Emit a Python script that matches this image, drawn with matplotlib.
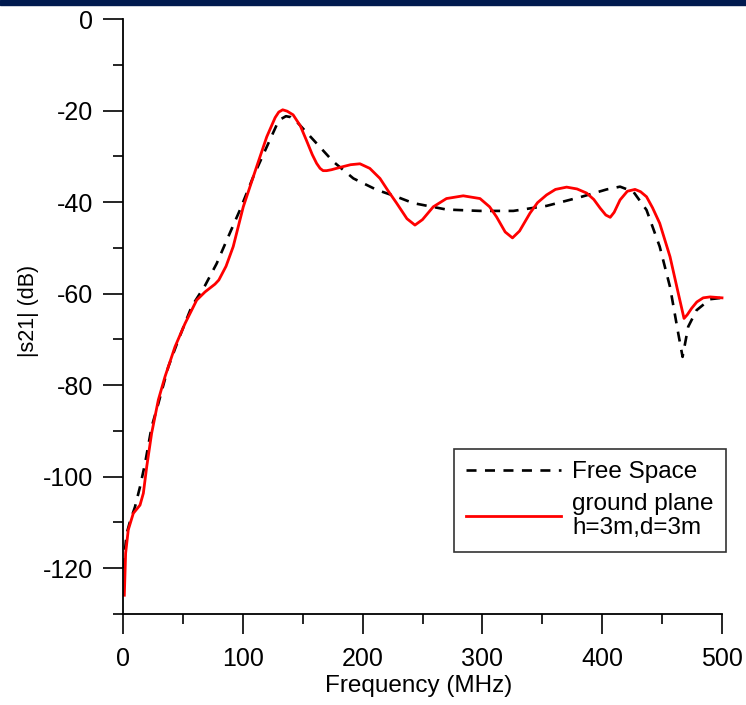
import matplotlib
matplotlib.use("Agg")
import matplotlib.pyplot as plt
from matplotlib.patches import Rectangle
from matplotlib.ticker import MultipleLocator

plt.rcParams['font.family'] = ['Liberation Sans', 'DejaVu Sans']
plt.rcParams['axes.unicode_minus'] = False

# Free space |s21| (dB)
fs_freq = [1, 1.7, 3, 5.8, 10, 14.2, 18.4, 23.9, 29.5, 37.8, 46.2, 57.3, 68.5,
           78.2, 86.6, 97.6, 108.8, 120, 128.3, 132, 136, 140, 145, 159, 175.4,
           192.3, 211.8, 228.4, 242.3, 270, 298, 325.8, 353.6, 381.6, 403.8,
           414.9, 426, 437, 448, 456.6, 463.5, 467.1, 471.8, 478.8, 490, 500]
fs_db = [-120, -116, -112.5, -109.8, -106.6, -102.2, -97.1, -89.1, -84, -76,
         -70.1, -62.8, -58.2, -53.4, -48.3, -41.7, -34.4, -27.9, -23.1, -21.8,
         -21.2, -21.4, -22.4, -26.4, -31.1, -34.8, -37.3, -38.8, -40.2, -41.6,
         -41.9, -41.9, -40.8, -38.9, -37.2, -36.6, -37.7, -41.7, -49.7, -58.5,
         -68.7, -73.8, -67.2, -63.6, -61.2, -60.9]

# Ground plane h=3m, d=3m |s21| (dB)
gp_freq = [1.1, 2.2, 4.4, 8.6, 14.2, 17, 19.8, 23.9, 29.5, 35.1, 43.4, 51.8,
           61.5, 68.5, 76.8, 80, 86, 92, 100.4, 111.6, 120, 127, 130, 133.3,
           137, 142, 148, 153, 158, 161.6, 164.5, 167, 170, 174, 181, 190, 197.8,
           206, 214.5, 221, 228.4, 237, 243.7, 250, 259, 270, 284, 298, 306,
           311.8, 319, 325.1, 331, 339.7, 346, 353.6, 361, 370.3, 379, 387,
           393, 398.3, 403, 406.7, 410, 414.9, 421, 427.4, 432, 437, 442, 448,
           456.6, 463.5, 468.3, 471, 474.6, 479, 484.3, 490, 500]
gp_db = [-125.9, -116.7, -111.6, -108, -106.2, -103.6, -97.8, -90.5, -83.2,
         -78.1, -71.6, -66.5, -61.4, -59.6, -57.9, -57, -54, -49.7, -41, -32.2,
         -25.7, -21.5, -20.3, -19.8, -20.1, -20.9, -23.3, -26.4, -29.6, -31.5,
         -32.6, -33.1, -33.1, -32.9, -32.4, -31.8, -31.6, -32.6, -34.8, -37.4,
         -40.2, -43.6, -45, -43.8, -41, -39.2, -38.6, -39.2, -41, -43.2, -46.5,
         -47.8, -46.3, -42.4, -40.1, -38.4, -37.2, -36.7, -37.1, -38, -39.4,
         -41.3, -42.8, -43.3, -42.2, -39.5, -37.6, -37.2, -37.7, -38.8, -41.2,
         -44.6, -51.9, -59.9, -65.4, -64.6, -63.2, -61.8, -60.9, -60.7, -60.9]

x_ticks = [0, 100, 200, 300, 400, 500]
y_ticks = [0, -20, -40, -60, -80, -100, -120]

W, H = 746, 705
fig = plt.figure(figsize=(W / 100, H / 100), dpi=100)
fig.patches.append(Rectangle((0, 1 - 5 / H), 1, 5 / H, transform=fig.transFigure,
                             color='#001a4f', zorder=10))

ax = fig.add_axes([123 / W, 1 - 614 / H, (722 - 123) / W, (614 - 19.2) / H])
ax.plot(fs_freq, fs_db, color='black', lw=1.9, dashes=(3.8, 3.2),
        label='Free Space', clip_on=False)
ax.plot(gp_freq, gp_db, color='#ff0000', lw=2.0,
        label='ground plane\nh=3m,d=3m', clip_on=False)

ax.set_xlim(0, 500)
ax.set_ylim(-130, 0)
ax.set_xticks(x_ticks)
ax.set_yticks(y_ticks)
ax.xaxis.set_minor_locator(MultipleLocator(50))
ax.yaxis.set_minor_locator(MultipleLocator(10))
for s in ['top', 'right']:
    ax.spines[s].set_visible(False)
for s in ['left', 'bottom']:
    ax.spines[s].set_linewidth(1.3)
ax.tick_params(which='major', direction='out', length=14.4, width=1.2,
               labelsize=18)
ax.tick_params(which='minor', direction='out', length=7.2, width=1.2)
ax.tick_params(axis='x', which='major', pad=9)
ax.tick_params(axis='y', which='major', pad=7)

ax.set_xlabel('Frequency (MHz)', fontsize=17.5)
ax.set_ylabel('|s21| (dB)', fontsize=15.5)
ax.xaxis.set_label_coords(0.494, -0.103)
ax.yaxis.set_label_coords(-0.14, 0.51)

leg = ax.legend(loc='upper left', bbox_to_anchor=(454 / W, 1 - 449 / H),
                bbox_transform=fig.transFigure, fontsize=17.5, frameon=True,
                fancybox=False, edgecolor='black', handlelength=3.9,
                handletextpad=0.45, borderpad=0.5, labelspacing=0.4,
                borderaxespad=0)
leg.get_frame().set_linewidth(1.2)
for t in leg.get_texts():
    t.set_linespacing(1.15)

fig.savefig('out.png', dpi=100)
